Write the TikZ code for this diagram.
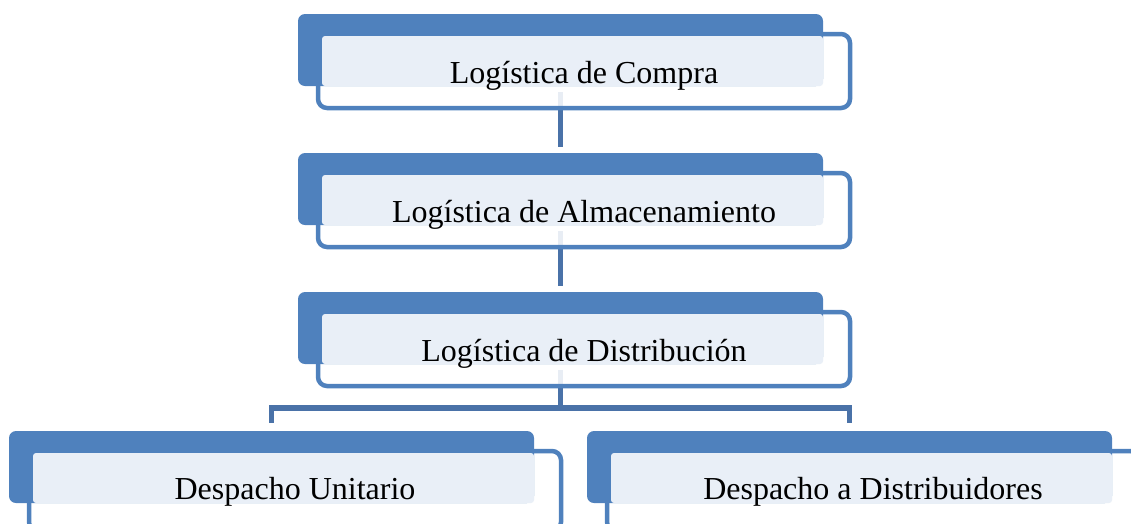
\documentclass[tikz,border=0pt]{standalone}
\usepackage{fontspec}
\setmainfont{Liberation Serif}
\usetikzlibrary{backgrounds}
\definecolor{boxblue}{HTML}{4F81BD}
\definecolor{boxlight}{HTML}{E9EFF7}
\definecolor{linkblue}{HTML}{4A72A8}
\tikzset{
	boxframe/.style={draw=boxblue, line width=4.5pt, fill=white, fill opacity=0.88, rounded corners=9pt, minimum width=532pt, minimum height=74pt, inner sep=0pt},
	boxtab/.style={fill=boxblue, rounded corners=7pt, minimum width=525pt, minimum height=72pt, inner sep=0pt},
	boxface/.style={fill=boxlight, rounded corners=3pt, minimum width=501pt, minimum height=50pt, inner sep=0pt, anchor=south east},
	boxlabel/.style={font=\fontsize{32}{38}\selectfont, anchor=base, inner sep=0pt},
	link/.style={draw=linkblue, line width=5.5pt}
}

\begin{document}
\begin{tikzpicture}[x=1pt,y=-1pt]
	\useasboundingbox (0,0) rectangle (1131,523);
	
	\node[boxframe] (f1) at (584,71) {};
	\node[boxtab] (b1) at ([xshift=-23.5pt,yshift=21pt]f1.center) {};
	\node[boxface] (l1) at (b1.south east) {};
	\node[boxlabel] (t1) at ([yshift=-12pt]f1.center) {Logística de Compra};
	
	\node[boxframe] (f2) at (584,210) {};
	\node[boxtab] (b2) at ([xshift=-23.5pt,yshift=21pt]f2.center) {};
	\node[boxface] (l2) at (b2.south east) {};
	\node[boxlabel] (t2) at ([yshift=-12pt]f2.center) {Logística de Almacenamiento};
	
	\node[boxframe] (f3) at (584,349) {};
	\node[boxtab] (b3) at ([xshift=-23.5pt,yshift=21pt]f3.center) {};
	\node[boxface] (l3) at (b3.south east) {};
	\node[boxlabel] (t3) at ([yshift=-12pt]f3.center) {Logística de Distribución};
	
	% bottom row runs past the lower edge
	\node[boxframe, minimum height=80pt] (f4) at (295,491) {};
	\node[boxtab] (b4) at ([xshift=-23.5pt,yshift=24pt]f4.center) {};
	\node[boxface] (l4) at (b4.south east) {};
	\node[boxlabel] (t4) at ([yshift=-8pt]f4.center) {Despacho Unitario};
	
	\node[boxframe, minimum height=80pt] (f5) at (873,491) {};
	\node[boxtab] (b5) at ([xshift=-23.5pt,yshift=24pt]f5.center) {};
	\node[boxface] (l5) at (b5.south east) {};
	\node[boxlabel] (t5) at ([yshift=-8pt]f5.center) {Despacho a Distribuidores};
	
	\begin{scope}[on background layer]
		\draw[link, shorten <=6pt, shorten >=6pt] (b1.south) -- (b2.north);
		\draw[link, shorten <=6pt, shorten >=6pt] (b2.south) -- (b3.north);
		\coordinate (j) at ([yshift=-44pt]b3.south);
		\draw[link, shorten <=6pt] (b3.south) -- (j);
		\draw[link, shorten <=8pt, shorten >=8pt] (b4.north) |- (j) -| (b5.north);
	\end{scope}
\end{tikzpicture}
\end{document}
